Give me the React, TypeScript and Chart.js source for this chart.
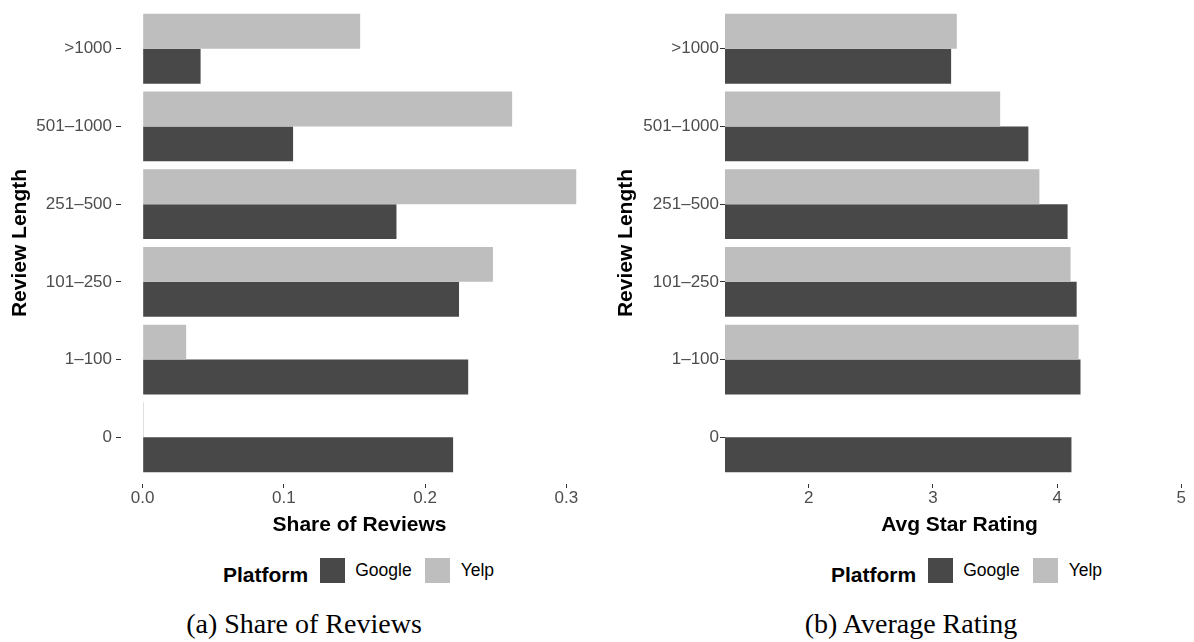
import React, { useEffect, useRef } from "react";
import { Chart, registerables } from "chart.js";

Chart.register(...registerables);

const categories = [">1000", "501–1000", "251–500", "101–250", "1–100", "0"];
const seriesNames = ["Google", "Yelp"];
const googleShare = [0.041, 0.1065, 0.1797, 0.224, 0.2305, 0.2198];
const yelpShare = [0.154, 0.2616, 0.307, 0.248, 0.0308, 0.0007];
const googleRating = [3.146, 3.768, 4.084, 4.157, 4.188, 4.115];
const yelpRating: (number | null)[] = [3.192, 3.541, 3.857, 4.108, 4.173, null];
const shareTicks = [0, 0.1, 0.2, 0.3];
const ratingTicks = [2, 3, 4, 5];

const GOOGLE = "#484848";
const YELP = "#bebebe";
const SANS = "'Liberation Sans', Arial, Helvetica, sans-serif";
const SERIF = "'Liberation Serif', 'Times New Roman', serif";

type PanelProps = {
  width: number;
  height: number;
  google: (number | null)[];
  yelp: (number | null)[];
  xMin: number;
  xMax: number;
  xTicks: number[];
  xFmt: (v: number) => string;
  xTitle: string;
  yAxisWidth: number;
  yTitlePad: number;
  yTickLen: number;
  yTickPad: number;
  padRight: number;
};

function Panel(p: PanelProps) {
  const ref = useRef<HTMLCanvasElement | null>(null);
  useEffect(() => {
    if (!ref.current) return;
    const toPts = (arr: (number | null)[]) =>
      arr.map((v, i) => ({ x: v as any, y: i }));
    const chart = new Chart(ref.current, {
      type: "bar",
      data: {
        datasets: [
          {
            label: seriesNames[1],
            data: toPts(p.yelp) as any,
            backgroundColor: YELP,
            borderWidth: 0,
            categoryPercentage: 0.9,
            barPercentage: 1,
          },
          {
            label: seriesNames[0],
            data: toPts(p.google) as any,
            backgroundColor: GOOGLE,
            borderWidth: 0,
            categoryPercentage: 0.9,
            barPercentage: 1,
          },
        ],
      },
      options: {
        indexAxis: "y",
        responsive: false,
        animation: false,
        devicePixelRatio: 1,
        layout: { padding: { top: 2, right: p.padRight, bottom: 0, left: 0 } },
        plugins: {
          legend: { display: false },
          tooltip: { enabled: false },
          title: { display: false },
        },
        scales: {
          y: {
            type: "linear",
            reverse: true,
            offset: false,
            min: -0.6,
            max: categories.length - 0.4,
            afterBuildTicks: (scale: any) => {
              scale.ticks = categories.map((_, i) => ({ value: i }));
            },
            afterFit: (scale: any) => {
              scale.width = p.yAxisWidth;
              scale.paddingTop = 0;
              scale.paddingBottom = 0;
            },
            ticks: {
              callback: (v: any) => categories[v as number],
              color: "#4d4d4d",
              font: { family: SANS, size: 17 },
              padding: p.yTickPad,
              autoSkip: false,
            },
            grid: {
              display: true,
              offset: false,
              drawOnChartArea: false,
              drawTicks: true,
              tickLength: p.yTickLen,
              color: "#333333",
              lineWidth: 1,
            },
            border: { display: false },
            title: {
              display: true,
              text: "Review Length",
              color: "#000000",
              font: { family: SANS, size: 21, weight: "bold" },
              padding: { top: p.yTitlePad, bottom: 0 },
            },
          },
          x: {
            type: "linear",
            min: p.xMin,
            max: p.xMax,
            afterBuildTicks: (scale: any) => {
              scale.ticks = p.xTicks.map((v) => ({ value: v }));
            },
            afterFit: (scale: any) => {
              scale.height = p.height - 484;
              scale.paddingLeft = 0;
              scale.paddingRight = 0;
            },
            ticks: {
              callback: (v: any) => p.xFmt(v as number),
              color: "#4d4d4d",
              font: { family: SANS, size: 17 },
              padding: 0,
              maxRotation: 0,
              autoSkip: false,
            },
            grid: {
              display: true,
              drawOnChartArea: false,
              drawTicks: true,
              tickLength: 4,
              color: "#333333",
              lineWidth: 1,
            },
            border: { display: false },
            title: {
              display: true,
              text: p.xTitle,
              color: "#000000",
              font: { family: SANS, size: 21, weight: "bold" },
              padding: { top: 0, bottom: 2.4 },
            },
          },
        },
      } as any,
    });
    return () => chart.destroy();
  }, []);
  return (
    <canvas
      ref={ref}
      width={p.width}
      height={p.height}
      style={{ display: "block", width: p.width, height: p.height }}
    />
  );
}

function Legend({ left }: { left: number }) {
  const sw = (c: string) => (
    <span style={{ display: "inline-block", width: 25, height: 25, background: c }} />
  );
  return (
    <div
      style={{
        position: "absolute",
        left,
        top: 558,
        height: 25,
        display: "flex",
        alignItems: "center",
        fontFamily: SANS,
        color: "#000",
        whiteSpace: "nowrap",
      }}
    >
      <span style={{ fontWeight: "bold", fontSize: 21, marginRight: 12, position: "relative", top: 4 }}>
        Platform
      </span>
      {sw(GOOGLE)}
      <span style={{ fontSize: 17.5, marginLeft: 10, marginRight: 13 }}>{seriesNames[0]}</span>
      {sw(YELP)}
      <span style={{ fontSize: 17.5, marginLeft: 11 }}>{seriesNames[1]}</span>
    </div>
  );
}

function Caption({ center, text }: { center: number; text: string }) {
  return (
    <div
      style={{
        position: "absolute",
        left: center - 300,
        width: 600,
        top: 607,
        textAlign: "center",
        fontFamily: SERIF,
        fontSize: 28,
        lineHeight: "34px",
        color: "#000",
        whiteSpace: "nowrap",
      }}
    >
      {text}
    </div>
  );
}

export default function App() {
  return (
    <div
      style={{
        position: "absolute",
        left: 0,
        top: 0,
        width: 1194,
        height: 642,
        overflow: "hidden",
        background: "#ffffff",
      }}
    >
      <div style={{ position: "absolute", left: 0, top: 0 }}>
        <Panel
          width={600}
          height={540}
          google={googleShare}
          yelp={yelpShare}
          xMin={-0.01535}
          xMax={0.3224}
          xTicks={shareTicks}
          xFmt={(v) => v.toFixed(1)}
          xTitle="Share of Reviews"
          yAxisWidth={121}
          yTitlePad={7.4}
          yTickLen={5}
          yTickPad={4}
          padRight={2}
        />
      </div>
      <div style={{ position: "absolute", left: 600, top: 0 }}>
        <Panel
          width={594}
          height={540}
          google={googleRating}
          yelp={yelpRating}
          xMin={1.325}
          xMax={5.102}
          xTicks={ratingTicks}
          xFmt={(v) => String(v)}
          xTitle="Avg Star Rating"
          yAxisWidth={125}
          yTitlePad={13.4}
          yTickLen={5}
          yTickPad={1}
          padRight={0}
        />
      </div>
      <Legend left={223} />
      <Legend left={831} />
      <Caption center={304} text="(a) Share of Reviews" />
      <Caption center={911} text="(b) Average Rating" />
    </div>
  );
}
